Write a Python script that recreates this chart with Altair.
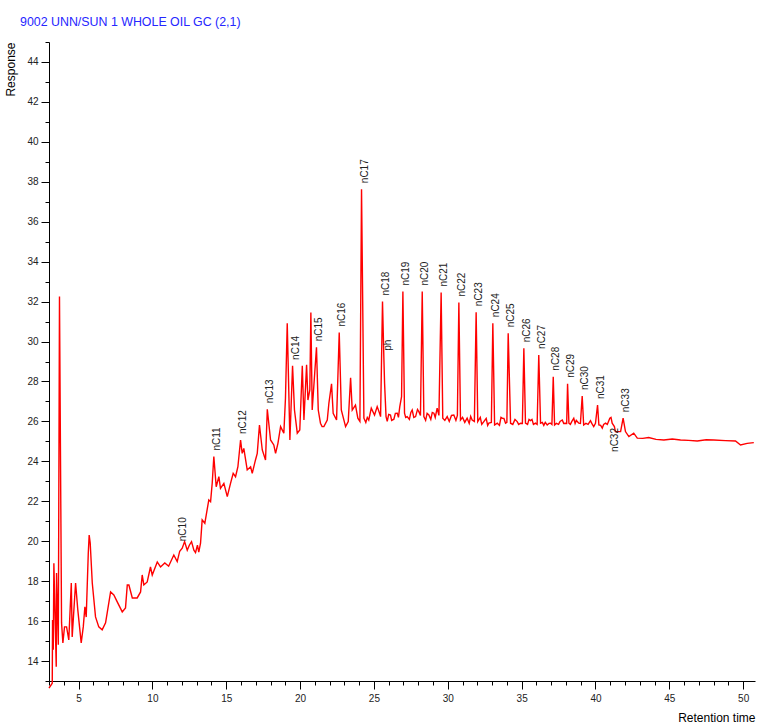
import altair as alt
import pandas as pd

# ---- chromatogram trace (retention time, response) ----
trace_time = [
    3.00, 3.22, 3.24, 3.29, 3.33, 3.49, 3.51, 3.63, 3.71, 3.85, 3.94, 4.05, 4.19, 4.34,
    4.51, 4.57, 4.80, 4.95, 5.18, 5.32, 5.43, 5.52, 5.66, 5.72, 5.79, 5.93, 6.15, 6.37,
    6.60, 6.83, 6.94, 7.17, 7.39, 7.62, 7.96, 8.18, 8.30, 8.41, 8.64, 8.97, 9.20, 9.31,
    9.42, 9.65, 9.87, 9.99, 10.33, 10.55, 10.84, 11.10, 11.45, 11.68, 11.85, 12.02, 12.18,
    12.36, 12.50, 12.65, 12.81, 12.92, 13.05, 13.14, 13.26, 13.37, 13.55, 13.82, 13.94,
    14.05, 14.16, 14.32, 14.50, 14.61, 14.84, 15.07, 15.29, 15.47, 15.63, 15.79, 15.97,
    16.08, 16.19, 16.42, 16.65, 16.76, 16.98, 17.10, 17.25, 17.44, 17.66, 17.78, 18.00,
    18.22, 18.34, 18.50, 18.68, 18.90, 19.01, 19.13, 19.31, 19.49, 19.62, 19.81, 19.98,
    20.15, 20.26, 20.44, 20.53, 20.66, 20.73, 20.82, 21.11, 21.23, 21.38, 21.49, 21.61,
    21.84, 21.95, 22.13, 22.24, 22.47, 22.65, 22.79, 23.08, 23.26, 23.42, 23.53, 23.75,
    23.91, 24.05, 24.16, 24.32, 24.45, 24.55, 24.65, 24.82, 25.04, 25.22, 25.38, 25.45,
    25.58, 25.67, 25.72, 25.82, 25.90, 26.00, 26.12, 26.20, 26.35, 26.45, 26.58, 26.66,
    26.75, 26.87, 26.96, 27.07, 27.15, 27.25, 27.40, 27.50, 27.59, 27.70, 27.82, 27.95,
    28.04, 28.15, 28.27, 28.38, 28.50, 28.60, 28.72, 28.85, 28.95, 29.06, 29.15, 29.28,
    29.40, 29.55, 29.66, 29.80, 29.96, 30.10, 30.25, 30.41, 30.55, 30.65, 30.75, 30.86,
    31.00, 31.15, 31.31, 31.45, 31.55, 31.65, 31.80, 31.92, 32.03, 32.20, 32.30, 32.44,
    32.60, 32.70, 32.78, 32.95, 33.05, 33.17, 33.35, 33.50, 33.60, 33.69, 33.80, 33.91,
    34.00, 34.09, 34.25, 34.40, 34.55, 34.70, 34.80, 34.93, 35.05, 35.15, 35.26, 35.40,
    35.50, 35.60, 35.70, 35.80, 35.94, 36.05, 36.16, 36.28, 36.40, 36.50, 36.60, 36.73,
    36.85, 36.96, 37.05, 37.14, 37.23, 37.35, 37.50, 37.60, 37.75, 37.85, 37.97, 38.05,
    38.11, 38.20, 38.30, 38.40, 38.53, 38.62, 38.70, 38.87, 38.98, 39.10, 39.20, 39.35,
    39.50, 39.66, 39.75, 39.88, 40.00, 40.14, 40.23, 40.35, 40.46, 40.55, 40.68, 40.80,
    40.97, 41.05, 41.13, 41.28, 41.35, 41.70, 41.87, 42.03, 42.26, 42.59, 42.83, 43.20,
    43.60, 44.10, 44.63, 45.20, 45.76, 46.30, 46.89, 47.50, 48.01, 48.80, 49.48, 49.82,
    50.27, 50.72,
]
trace_resp = [
    12.64, 12.89, 16.06, 14.56, 18.90, 13.72, 18.41, 14.81, 32.25, 15.91, 14.91, 15.71, 15.71, 15.06,
    17.91, 15.21, 17.91, 16.56, 14.91, 15.71, 16.71, 16.20, 19.41, 20.31, 19.91, 17.91, 16.21, 15.71,
    15.56, 15.91, 16.41, 17.46, 17.31, 16.96, 16.46, 16.66, 17.81, 17.81, 17.16, 17.16, 17.46, 18.31,
    17.81, 17.96, 18.71, 18.31, 18.96, 18.71, 18.91, 18.75, 19.31, 18.98, 19.50, 19.65, 19.98,
    19.55, 19.80, 19.98, 19.55, 19.43, 19.80, 19.45, 19.90, 21.07, 20.90, 22.07, 21.98,
    22.90, 24.24, 22.73, 23.23, 22.65, 22.90, 22.23, 22.90, 23.40, 23.23, 23.73, 25.07,
    24.40, 24.65, 23.57, 23.73, 23.40, 24.07, 24.40, 25.82, 24.57, 24.07, 26.61, 25.07,
    24.82, 24.40, 24.90, 25.74, 25.41, 27.16, 30.91, 25.07, 28.78, 26.57, 25.41, 25.57,
    28.78, 26.07, 28.83, 27.07, 27.58, 31.45, 26.57, 29.71, 26.57, 25.91, 25.74, 25.74,
    26.07, 26.91, 27.88, 26.41, 26.07, 30.45, 26.57, 25.74, 25.99, 28.19, 26.57, 26.82,
    26.16, 26.00, 37.63, 26.16, 25.95, 26.20, 26.07, 26.66, 26.32, 26.74, 26.41, 26.24,
    32.00, 29.24, 27.91, 26.24, 26.00, 26.35, 26.32, 26.05, 26.11, 26.40, 26.41, 26.20,
    26.74, 27.24, 32.50, 26.41, 26.20, 26.24, 26.10, 26.45, 26.57, 26.20, 26.24, 26.60,
    26.49, 26.30, 32.50, 26.24, 26.05, 26.40, 26.32, 26.10, 26.45, 26.41, 26.20, 26.66,
    26.30, 32.45, 26.16, 26.05, 26.24, 26.00, 26.30, 26.32, 26.05, 26.30, 31.95, 26.07,
    26.20, 25.95, 26.16, 25.90, 26.25, 26.07, 26.00, 31.47, 25.99, 26.20, 25.85, 25.99,
    26.15, 25.80, 25.91, 25.95, 30.92, 25.82, 25.91, 25.80, 26.20, 26.16, 26.15, 25.91,
    25.95, 30.41, 25.91, 25.85, 26.10, 25.99, 25.85, 25.91, 25.90, 29.66, 25.91, 25.85,
    26.10, 26.04, 26.10, 25.85, 25.91, 25.85, 29.33, 25.91, 25.95, 25.80, 25.95, 25.82,
    25.90, 25.91, 25.85, 28.24, 25.82, 25.90, 25.85, 26.00, 26.07, 25.90, 25.91, 25.90,
    27.88, 25.91, 25.85, 26.00, 26.16, 25.90, 26.05, 25.91, 25.90, 27.27, 25.82, 25.90,
    25.85, 26.04, 25.90, 25.74, 25.90, 26.82, 25.82, 25.80, 25.66, 25.85, 25.91, 25.85,
    26.16, 26.20, 25.91, 25.74, 25.49, 25.49, 26.16, 25.49, 25.24, 25.41, 25.16, 25.15,
    25.19, 25.10, 25.07, 25.12, 25.07, 25.05, 25.02, 25.08, 25.07, 25.04, 25.02, 24.82,
    24.90, 24.94,
]

# ---- peak annotations (label above peak) ----
peak_names = ["nC10", "nC11", "nC12", "nC13", "nC14", "nC15", "nC16", "nC17", "nC18", "ph",
              "nC19", "nC20", "nC21", "nC22", "nC23", "nC24", "nC25", "nC26", "nC27", "nC28",
              "nC29", "nC30", "nC31", "nC33"]
peak_times = [11.90, 14.14, 15.90, 17.73, 19.49, 21.09, 22.65, 24.16, 25.58, 25.72,
              26.96, 28.27, 29.55, 30.75, 31.92, 33.05, 34.09, 35.15, 36.16, 37.14,
              38.11, 39.10, 40.14, 41.87]
peak_resp = [19.70, 24.24, 25.07, 26.61, 28.78, 29.71, 30.45, 37.63, 32.00, 29.24,
             32.50, 32.50, 32.45, 31.95, 31.47, 30.92, 30.41, 29.66, 29.33, 28.24,
             27.88, 27.27, 26.82, 26.16]
# label hanging below the trace
low_names = ["nC32"]
low_times = [41.19]
low_resp = [25.92]

title_text = "9002 UNN/SUN 1 WHOLE OIL GC (2,1)"
x_title = "Retention time"
y_title = "Response"
x_ticks = list(range(3, 51))
y_ticks = [v / 2 for v in range(26, 91)]

FONT = "Liberation Sans"

trace_df = pd.DataFrame({"t": trace_time, "r": trace_resp})
peak_df = pd.DataFrame({"t": peak_times, "r": peak_resp, "name": peak_names})
low_df = pd.DataFrame({"t": low_times, "r": low_resp, "name": low_names})

X = alt.X(
    "t:Q",
    scale=alt.Scale(domain=[3, 50.8], nice=False, zero=False),
    axis=alt.Axis(
        values=x_ticks,
        format="d",
        labelExpr="datum.value % 5 === 0 ? datum.label : ''",
        tickSize={"condition": {"test": "datum.value % 5 === 0", "value": 8}, "value": 4},
        grid=False, domainColor="#000000", tickColor="#000000", domainWidth=1, tickWidth=1,
        labelColor="#222222", labelFont=FONT, labelFontSize=10, labelPadding=4,
        labelOverlap=False, labelFlush=False,
        title=x_title, titleFont=FONT, titleFontSize=12, titleFontWeight="normal",
        titleColor="#000000", titleAnchor="end", titleAlign="right",
        titleBaseline="alphabetic", titleX=706, titleY=40,
    ),
)
Y = alt.Y(
    "r:Q",
    scale=alt.Scale(domain=[13, 45], nice=False, zero=False),
    axis=alt.Axis(
        values=y_ticks,
        format="d",
        labelExpr="datum.value % 2 === 0 ? datum.label : ''",
        tickSize={"condition": {"test": "datum.value % 2 === 0", "value": 8}, "value": 4},
        grid=False, domainColor="#000000", tickColor="#000000", domainWidth=1, tickWidth=1,
        labelColor="#222222", labelFont=FONT, labelFontSize=10, labelPadding=3,
        labelOverlap=False,
        title=y_title, titleFont=FONT, titleFontSize=12, titleFontWeight="normal",
        titleColor="#000000", titleAngle=270, titleAnchor="end", titleAlign="right",
        titleBaseline="bottom", titleX=-32, titleY=0,
    ),
)

line = alt.Chart(trace_df).mark_line(color="#ff0000", strokeWidth=1.4).encode(x=X, y=Y, order="t:Q")

labels = alt.Chart(peak_df).mark_text(
    angle=270, align="left", baseline="middle", dx=6, dy=3,
    font=FONT, fontSize=10, color="#222222",
).encode(x=X, y=Y, text="name:N")

low_labels = alt.Chart(low_df).mark_text(
    angle=270, align="right", baseline="middle", dx=-5, dy=2,
    font=FONT, fontSize=10, color="#222222",
).encode(x=X, y=Y, text="name:N")

chart = alt.layer(line, labels, low_labels).properties(
    width=706,
    height=639,
    padding={"left": 49, "top": 42, "right": 3, "bottom": 43},
    autosize=alt.AutoSizeParams(type="none"),
    background="#ffffff",
    title=alt.TitleParams(
        text=title_text, anchor="start", frame="group", dx=-29, dy=20, offset=19,
        baseline="alphabetic", font=FONT, fontSize=12.4, fontWeight="normal",
        color="#2626ff",
    ),
).configure_view(stroke=None)

chart.save("out.html", embed_options={"renderer": "svg", "actions": False})
